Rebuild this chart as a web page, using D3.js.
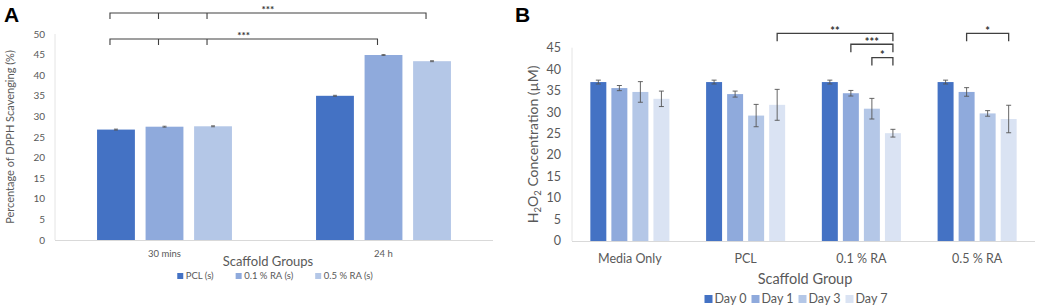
<!DOCTYPE html>
<html><head><meta charset="utf-8">
<script src="https://cdn.jsdelivr.net/npm/d3@7"></script>
<style>
html,body{margin:0;padding:0;background:#fff;}
svg{display:block;font-family:Lato,"Open Sans",sans-serif;}
</style></head>
<body><svg id="c" width="1038" height="308"></svg>
<script>
// ---------- Panel A data ----------
const catsA = ["30 mins", "24 h"];
const seriesA = ["PCL (s)", "0.1 % RA (s)", "0.5 % RA (s)"];
const valsPCL_A = [26.8, 35.0];
const valsRA01_A = [27.5, 44.9];
const valsRA05_A = [27.6, 43.4];
const errA = [0.12, 0.12];
const ticksA = [0, 5, 10, 15, 20, 25, 30, 35, 40, 45, 50];
const colorsA = ["#4472C4", "#8FAADC", "#B4C7E7"];

// ---------- Panel B data ----------
const catsB = ["Media Only", "PCL", "0.1 % RA", "0.5 % RA"];
const seriesB = ["Day 0", "Day 1", "Day 3", "Day 7"];
const day0 = [37.0, 37.0, 37.0, 37.0];
const day1 = [35.6, 34.2, 34.4, 34.7];
const day3 = [34.7, 29.2, 30.8, 29.7];
const day7 = [33.1, 31.7, 25.1, 28.4];
const err0 = [0.45, 0.45, 0.45, 0.45];
const err1 = [0.6, 0.7, 0.65, 1.0];
const err3 = [2.4, 2.6, 2.4, 0.65];
const err7 = [1.8, 3.6, 0.9, 3.2];
const ticksB = [0, 5, 10, 15, 20, 25, 30, 35, 40, 45];
const colorsB = ["#4472C4", "#8FAADC", "#B4C7E7", "#DAE3F3"];

// significance annotations: [category, series] endpoints, level (in data units), label
const sigA = [
  {pts: [[0,0],[0,1],[0,2],[1,2]], level: 55.1, label: "***"},
  {pts: [[0,0],[0,1],[0,2],[1,1]], level: 48.8, label: "***"}
];
const sigB = [
  {pts: [[1,3],[2,3]], level: 48.35, label: "**"},
  {pts: [[2,1],[2,3]], level: 45.8, label: "***"},
  {pts: [[2,2],[2,3]], level: 42.7, label: "*"},
  {pts: [[3,1],[3,3]], level: 48.35, label: "*"}
];

const svg = d3.select("#c");
const txt = "#595959";

// ================= Panel A =================
(function(){
  const vals = [valsPCL_A, valsRA01_A, valsRA05_A];
  const x0 = d3.scaleBand().domain(catsA).range([55, 493]).paddingInner(0.384).paddingOuter(0.192);
  const x1 = d3.scaleBand().domain(d3.range(seriesA.length)).range([0, x0.bandwidth()]).paddingInner(0.22);
  const y = d3.scaleLinear().domain([0, 50]).range([240, 34]);
  const g = svg.append("g");

  g.append("line").attr("x1", 55).attr("x2", 55).attr("y1", y(50)).attr("y2", y(0)).attr("stroke", "#E4E4E4");
  g.append("line").attr("x1", 55).attr("x2", 493).attr("y1", y(0)+0.5).attr("y2", y(0)+0.5).attr("stroke", "#D9D9D9");

  g.selectAll(".ty").data(ticksA).join("text")
    .attr("x", 45).attr("y", d => y(d)).attr("dy", "0.35em")
    .attr("text-anchor", "end").attr("font-size", 10).attr("fill", txt).text(d => d);

  catsA.forEach((c, ci) => {
    vals.forEach((s, si) => {
      const bx = x0(c) + x1(si);
      g.append("rect").attr("x", bx).attr("y", y(s[ci])).attr("width", x1.bandwidth())
        .attr("height", y(0) - y(s[ci])).attr("fill", colorsA[si]);
      const cx = bx + x1.bandwidth()/2;
      const e = errA[ci];
      g.append("path").attr("d", `M${cx-2},${y(s[ci]+e)}H${cx+2}M${cx},${y(s[ci]+e)}V${y(s[ci]-e)}M${cx-2},${y(s[ci]-e)}H${cx+2}`)
        .attr("stroke", "#555").attr("stroke-width", 0.8).attr("fill", "none");
    });
  });

  g.selectAll(".tx").data(catsA).join("text")
    .attr("x", d => x0(d) + x0.bandwidth()/2).attr("y", 257)
    .attr("text-anchor", "middle").attr("font-size", 9.5).attr("fill", txt).text(d => d);

  g.append("text").attr("x", 268).attr("y", 266).attr("text-anchor", "middle")
    .attr("font-size", 13).attr("fill", txt).text("Scaffold Groups");
  g.append("text").attr("transform", `translate(14,${(y(0)+y(50))/2}) rotate(-90)`)
    .attr("text-anchor", "middle").attr("font-size", 11).attr("fill", txt)
    .text("Percentage of DPPH Scavenging (%)");

  const leg = g.append("g");
  let lx = 0;
  seriesA.forEach((s, i) => {
    const it = leg.append("g").attr("transform", `translate(${lx},0)`);
    it.append("rect").attr("x", 0).attr("y", -3).attr("width", 6).attr("height", 6).attr("fill", colorsA[i]);
    const t = it.append("text").attr("x", 8.5).attr("y", 0).attr("dy", "0.35em").attr("font-size", 9.5).attr("fill", txt).text(s);
    lx += 8.5 + t.node().getComputedTextLength() + 22;
  });
  const lw = lx - 22;
  leg.attr("transform", `translate(${275 - lw/2},276)`);

  sigA.forEach(b => {
    const xs = b.pts.map(p => x0(catsA[p[0]]) + x1(p[1]) + x1.bandwidth()/2 - 6);
    const yl = y(b.level);
    let d = `M${xs[0]},${yl+6}V${yl}H${xs[xs.length-1]}V${yl+6}`;
    xs.slice(1, -1).forEach(xx => { d += `M${xx},${yl}V${yl+6}`; });
    g.append("path").attr("d", d).attr("stroke", "#404040").attr("stroke-width", 1.1).attr("fill", "none");
    g.append("text").attr("x", (xs[0] + xs[xs.length-1])/2).attr("y", yl + 0.5)
      .attr("text-anchor", "middle").attr("font-size", 10).attr("font-weight", "bold").attr("fill", "#333").text(b.label);
  });

  svg.append("text").attr("x", 4).attr("y", 22).attr("font-family", "'Liberation Sans',Arial,sans-serif")
    .attr("font-size", 21).attr("font-weight", "bold").attr("fill", "#000").text("A");
})();

// ================= Panel B =================
(function(){
  const vals = [day0, day1, day3, day7];
  const errs = [err0, err1, err3, err7];
  const x0 = d3.scaleBand().domain(catsB).range([572, 1035]).paddingInner(0.317).paddingOuter(0.1585);
  const x1 = d3.scaleBand().domain(d3.range(seriesB.length)).range([0, x0.bandwidth()]).paddingInner(0.24);
  const y = d3.scaleLinear().domain([0, 45]).range([241, 47.7]);
  const g = svg.append("g");

  g.append("line").attr("x1", 572).attr("x2", 572).attr("y1", y(45)).attr("y2", y(0)).attr("stroke", "#E4E4E4");
  g.append("line").attr("x1", 572).attr("x2", 1035).attr("y1", y(0)+0.5).attr("y2", y(0)+0.5).attr("stroke", "#D9D9D9");

  g.selectAll(".ty").data(ticksB).join("text")
    .attr("x", 561).attr("y", d => y(d)).attr("dy", "0.35em")
    .attr("text-anchor", "end").attr("font-size", 12.5).attr("fill", txt).text(d => d);

  catsB.forEach((c, ci) => {
    vals.forEach((s, si) => {
      const bx = x0(c) + x1(si);
      g.append("rect").attr("x", bx).attr("y", y(s[ci])).attr("width", x1.bandwidth())
        .attr("height", y(0) - y(s[ci])).attr("fill", colorsB[si]);
    });
  });
  catsB.forEach((c, ci) => {
    vals.forEach((s, si) => {
      const cx = x0(c) + x1(si) + x1.bandwidth()/2;
      const e = errs[si][ci];
      g.append("path").attr("d", `M${cx-2.5},${y(s[ci]+e)}H${cx+2.5}M${cx},${y(s[ci]+e)}V${y(s[ci]-e)}M${cx-2.5},${y(s[ci]-e)}H${cx+2.5}`)
        .attr("stroke", "#555").attr("stroke-width", 0.9).attr("fill", "none");
    });
  });

  g.selectAll(".tx").data(catsB).join("text")
    .attr("x", d => x0(d) + x0.bandwidth()/2).attr("y", 259).attr("dy", "0.35em")
    .attr("text-anchor", "middle").attr("font-size", 12.5).attr("fill", txt).text(d => d);

  g.append("text").attr("x", 805).attr("y", 284).attr("text-anchor", "middle")
    .attr("font-size", 14.5).attr("fill", txt).text("Scaffold Group");

  const yt = g.append("text").attr("transform", `translate(538,${(y(0)+y(45))/2}) rotate(-90)`)
    .attr("text-anchor", "middle").attr("font-size", 14).attr("fill", txt);
  yt.append("tspan").text("H");
  yt.append("tspan").attr("font-size", 9.5).attr("dy", 3).text("2");
  yt.append("tspan").attr("dy", -3).text("O");
  yt.append("tspan").attr("font-size", 9.5).attr("dy", 3).text("2");
  yt.append("tspan").attr("dy", -3).text(" Concentration (µM)");

  const leg = g.append("g");
  let lx = 0;
  seriesB.forEach((s, i) => {
    const it = leg.append("g").attr("transform", `translate(${lx},0)`);
    it.append("rect").attr("x", 0).attr("y", -4).attr("width", 8).attr("height", 8).attr("fill", colorsB[i]);
    const t = it.append("text").attr("x", 10).attr("y", 0).attr("dy", "0.35em").attr("font-size", 12.5).attr("fill", txt).text(s);
    lx += 10 + t.node().getComputedTextLength() + 5;
  });
  const lw = lx - 5;
  leg.attr("transform", `translate(${796 - lw/2},299)`);

  sigB.forEach(b => {
    const xs = b.pts.map(p => x0(catsB[p[0]]) + x1(p[1]) + x1.bandwidth()/2);
    const yl = y(b.level);
    const d = `M${xs[0]},${yl+8}V${yl}H${xs[1]}V${yl+8}`;
    g.append("path").attr("d", d).attr("stroke", "#404040").attr("stroke-width", 1.3).attr("fill", "none");
    g.append("text").attr("x", (xs[0] + xs[1])/2).attr("y", yl + 1.5)
      .attr("text-anchor", "middle").attr("font-size", 11).attr("font-weight", "bold").attr("fill", "#333").text(b.label);
  });

  svg.append("text").attr("x", 515).attr("y", 22).attr("font-family", "'Liberation Sans',Arial,sans-serif")
    .attr("font-size", 21).attr("font-weight", "bold").attr("fill", "#000").text("B");
})();
</script>
</body></html>
